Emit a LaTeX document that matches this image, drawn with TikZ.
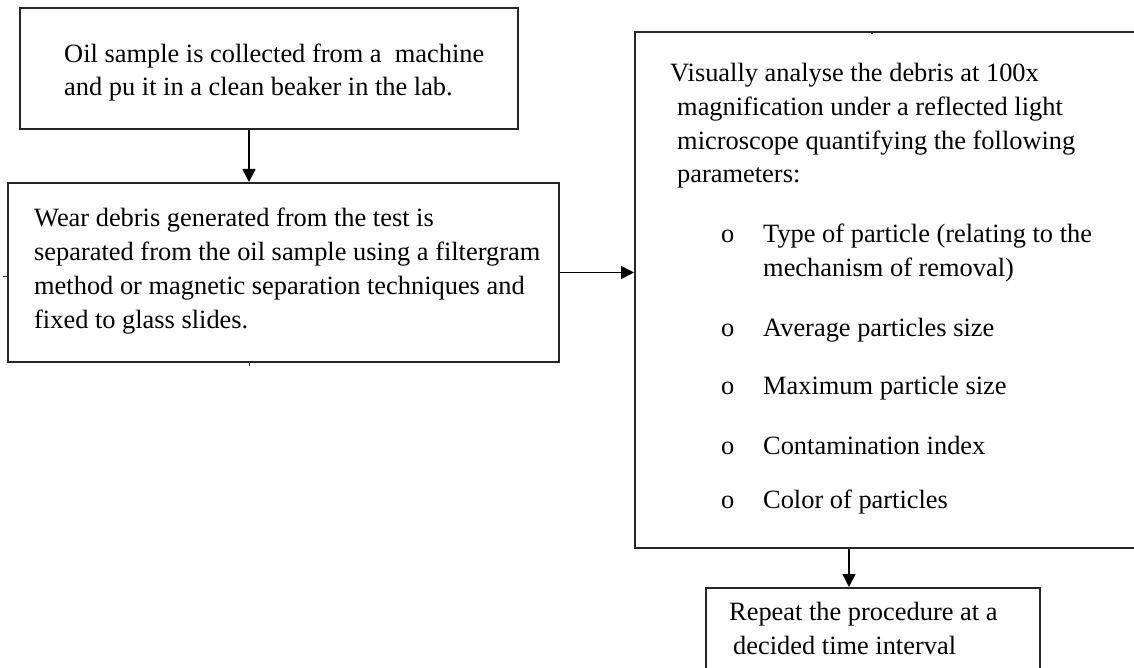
\documentclass[tikz,border=0pt]{standalone}
\usepackage{fontspec}
\setmainfont{Liberation Serif}
\usetikzlibrary{arrows.meta}
\begin{document}
\begin{tikzpicture}[x=1pt,y=-1pt,
  stepbox/.style={draw=black!85, line width=2pt, inner sep=0pt, anchor=north west},
  % multi-line texts are placed by the baseline of their last line
  txt/.style={inner sep=0pt, anchor=base west, align=left,
    font=\fontsize{26.4}{33.7}\selectfont},
  listtxt/.style={inner sep=0pt, anchor=base west,
    font=\fontsize{26.4}{33.7}\selectfont},
  flow/.style={draw=black, line width=1.5pt, -{Triangle[length=13pt,width=13pt]}},
  stub/.style={draw=black!85, line width=1.2pt}]
\useasboundingbox (0,0) rectangle (1134,668);

% boxes
\node[stepbox, minimum width=498pt, minimum height=121pt] (b1) at (19,7) {};
\node[stepbox, minimum width=551pt, minimum height=179pt] (b2) at (7,182) {};
\node[stepbox, minimum width=508pt, minimum height=516pt] (b3) at (634,31) {};
\node[stepbox, minimum width=334pt, minimum height=95pt] (b4) at (705,587) {};

% texts
\node[txt] (t1) at (64,96) {Oil sample is collected from a\ \ machine\\and pu it in a clean beaker in the lab.};
\node[txt] (t2) at (34,328) {Wear debris generated from the test is\\separated from the oil sample using a filtergram\\method or magnetic separation techniques and\\fixed to glass slides.};
\node[txt] (t3) at (677,183) {\kern-7pt Visually analyse the debris at 100x\\magnification under a reflected light\\microscope quantifying the following\\parameters:};
\node[listtxt] (t3list) at (721,243) {%
  \begin{tabular}[t]{@{}p{42pt}@{}l@{}}
  o & Type of particle (relating to the\\
    & mechanism of removal)\\[26pt]
  o & Average particles size\\[24pt]
  o & Maximum particle size\\[27pt]
  o & Contamination index\\[20pt]
  o & Color of particles
  \end{tabular}};
\node[txt] (t4) at (729,654) {Repeat the procedure at a\\\kern4pt decided time interval};

% connectors
\draw[flow] ([xshift=-20pt]b1.south) -- ([xshift=-20pt]b1.south |- b2.north);
\draw[flow] (b2.east) -- (b2.east -| b3.west);
\draw[flow] ([xshift=-40pt]b3.south) -- ([xshift=-40pt]b3.south |- b4.north);

% small connector stubs on the box edges
\draw[stub] ([yshift=-4pt]b2.west) -- ++(-4,0);
\draw[stub] ([xshift=-34pt]b2.south) -- ++(0,3);
\draw[stub] ([xshift=-17pt]b3.north) -- ++(0,3);
\end{tikzpicture}
\end{document}
